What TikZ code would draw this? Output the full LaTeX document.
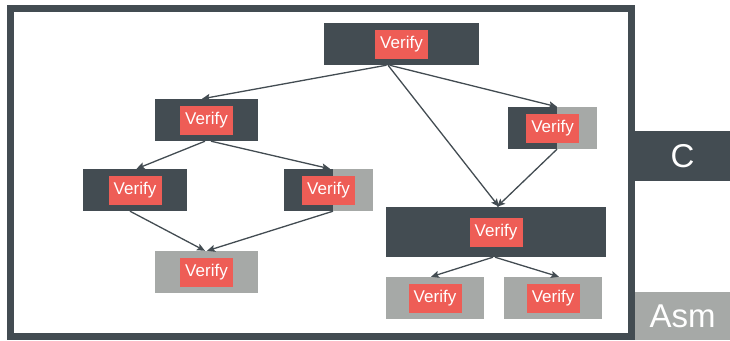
\documentclass[tikz,border=0pt]{standalone}
\usepackage{fontspec}
\setmainfont{Liberation Sans}
\usetikzlibrary{arrows.meta}
\definecolor{slate}{RGB}{67,76,82}
\definecolor{ash}{RGB}{166,169,167}
\definecolor{coral}{RGB}{238,93,86}
\tikzset{
  block/.style={draw=none, inner sep=0pt, minimum height=42pt},
  darkblock/.style={block, fill=slate},
  greyblock/.style={block, fill=ash},
  splitblock/.style={block, fill=ash,
    path picture={\fill[slate] (path picture bounding box.south west)
      rectangle ([xshift=4.5pt]path picture bounding box.north);}},
  tag/.style={fill=coral, text=white, inner sep=0pt, minimum width=53pt,
    minimum height=29pt, font=\fontsize{17}{19}\selectfont},
  side/.style={inner sep=0pt, minimum width=95pt, text=white,
    font=\fontsize{33}{36}\selectfont},
  link/.style={draw=slate, line width=1.3pt,
    -{Stealth[length=8pt,width=7pt,inset=1.5pt]}},
}
\begin{document}
\begin{tikzpicture}[x=1pt,y=-1pt]
\useasboundingbox (0,0) rectangle (730,340);

% enclosing frame
\draw[slate, line width=7pt] (10.5,8.5) rectangle (631.5,336);

% side labels
\node[side, fill=slate, minimum height=50pt] (c) at (682.5,156) {C};
\node[side, fill=ash, minimum height=48pt, anchor=north] (asm) at (682.5,292) {\raisebox{-4pt}{Asm}};

% blocks
\node[darkblock, minimum width=155pt] (top) at (401.5,44) {};
\node[darkblock, minimum width=103pt] (lm) at (206.5,120) {};
\node[splitblock, minimum width=89pt] (ru) at (552.5,128) {};
\node[darkblock, minimum width=104pt] (ll) at (135,190) {};
\node[splitblock, minimum width=89pt] (mh) at (328.5,190) {};
\node[greyblock, minimum width=103pt] (bl) at (206.5,272) {};
\node[darkblock, minimum width=220pt, minimum height=50pt] (big) at (496,232) {};
\node[greyblock, minimum width=98pt] (g1) at (435,298) {};
\node[greyblock, minimum width=98pt] (g2) at (553,298) {};

% labels on the blocks
\foreach \b in {top,lm,ru,ll,mh,bl,big,g1,g2}
  \node[tag] (\b-tag) at (\b) {Verify};

% links
\draw[link] ([xshift=-15pt]top.south) -- ([xshift=-4.5pt]lm.north);
\draw[link] ([xshift=-12pt]top.south) -- ([xshift=4.5pt]ru.north);
\draw[link] ([xshift=-13.5pt]top.south) -- ([xshift=3pt]big.north);
\draw[link] ([xshift=4.5pt]ru.south) -- ([xshift=1pt]big.north);
\draw[link] ([xshift=-1.5pt]lm.south) -- ([xshift=1.5pt]ll.north);
\draw[link] ([xshift=4.5pt]lm.south) -- ([xshift=1.5pt]mh.north);
\draw[link] ([xshift=-5pt]ll.south) -- ([xshift=-1.5pt]bl.north);
\draw[link] ([xshift=4.5pt]mh.south) -- ([xshift=0.5pt]bl.north);
\draw[link] ([xshift=-3pt]big.south) -- ([xshift=-4pt]g1.north);
\draw[link] ([xshift=-1pt]big.south) -- ([xshift=6pt]g2.north);
\end{tikzpicture}
\end{document}
